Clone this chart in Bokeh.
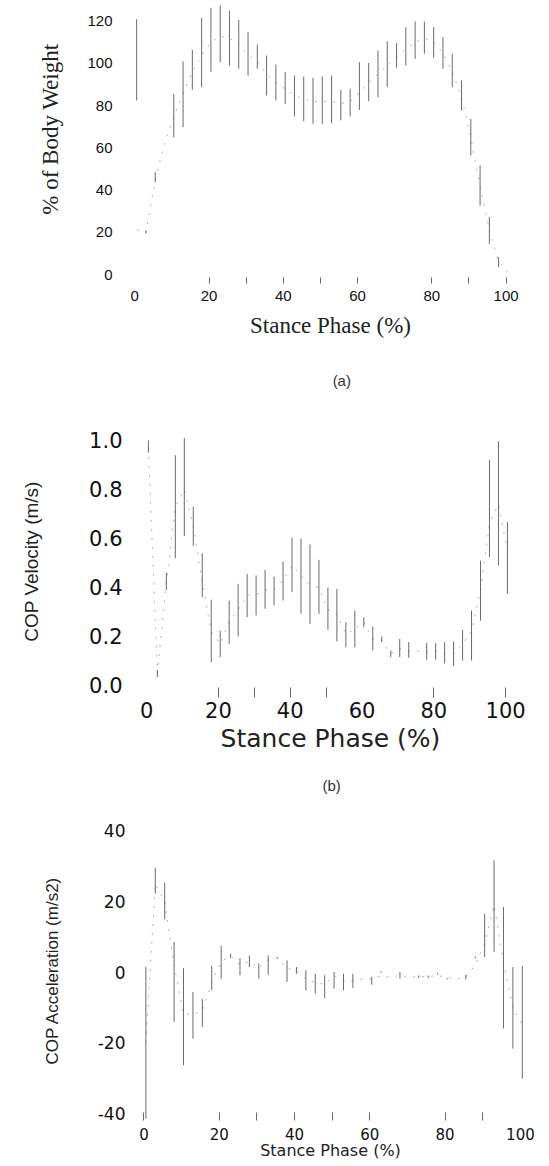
from bokeh.plotting import figure
from bokeh.models import FixedTicker, ColumnDataSource, NumeralTickFormatter, Title
from bokeh.layouts import column
from bokeh.core.properties import value
from bokeh.embed import file_html
from bokeh.resources import INLINE

N = None
# stance phase sample positions (%)
phase = [0.5, 3, 5.5, 8, 10.5, 13, 15.5, 18, 20.5, 23, 25.5, 28, 30.5, 33, 35.5, 38,
         40.5, 43, 45.5, 48, 50.5, 53, 55.5, 58, 60.5, 63, 65.5, 68, 70.5, 73, 75.5,
         78, 80.5, 83, 85.5, 88, 90.5, 93, 95.5, 98, 100.5]

# (a) vertical force, % body weight
force_mean = [21, 20, 45, 62, 75, 86, 96, 104, 110, 113, 112, 109, 104, 101, 95, 91,
              88, 85, 83, 82, 82, 82, 81, 82, 86, 91, 95, 99, 103, 107, 110,
              112, 110, 105, 96, 84, 65, 42, 21, 6, 1]
force_lo = [82.5, 19.4, 43.7, N, 65.1, 69.8, 87.5, 88.8, 96, 100.6, 99, 97.5, 94.3, 97.5, 84.8, 82.5,
            80.9, 74.9, 72.6, 71.4, 71.4, 71.7, 73, 74.9, 78, 82.1, 84, 88.8, 98, 99, 102.2,
            104.6, 102.7, 97.5, 88.8, 77.7, 56.4, 32.7, 14.5, 3.5, N]
force_hi = [121, 20.8, 48.5, N, 85.6, 101, 106.5, 121.6, 126.4, 127.5, 125, 120.7, 114.9, 108.9, 103.8, 99.5,
            95.9, 94.3, 93.8, 93.2, 93.8, 94.3, 87.5, 88, 100.6, 100.3, 106.2, 110.6, 109.6, 117.2, 119.9,
            119.9, 117.2, 112.5, 104.6, 91.9, 73.8, 51.7, 27.2, 8.2, N]

# (b) COP velocity, m/s
vel_mean = [0.97, 0.05, 0.42, 0.73, 0.80, 0.65, 0.42, 0.22, 0.17, 0.26, 0.31, 0.37, 0.37, 0.39, 0.39, 0.43,
            0.49, 0.45, 0.41, 0.40, 0.31, 0.29, 0.21, 0.23, 0.26, 0.19, 0.185, 0.13, 0.15, 0.14, 0.14,
            0.14, 0.14, 0.13, 0.13, 0.17, 0.22, 0.39, 0.66, 0.74, 0.55]
vel_lo = [0.95, 0.034, 0.39, 0.52, 0.61, 0.57, 0.36, 0.095, 0.116, 0.17, 0.2, 0.279, 0.286, 0.313, 0.327, 0.347,
          0.381, 0.293, 0.252, 0.293, 0.227, 0.18, 0.156, 0.156, 0.238, 0.143, 0.177, 0.116, 0.116, 0.113, N,
          0.105, 0.105, 0.09, 0.08, 0.102, 0.102, 0.265, 0.524, 0.49, 0.374]
vel_hi = [1.0, 0.064, 0.46, 0.94, 1.01, 0.73, 0.54, 0.35, 0.224, 0.347, 0.415, 0.456, 0.449, 0.472, 0.445, 0.507,
          0.603, 0.599, 0.576, 0.513, 0.40, 0.395, 0.258, 0.306, 0.279, 0.241, 0.2, 0.143, 0.19, 0.177, N,
          0.173, 0.173, 0.177, 0.18, 0.227, 0.306, 0.51, 0.92, 0.997, 0.667]

# (c) COP acceleration, m/s2
acc_mean = [-20, 25, 20, 2, -12, -12, -11, -3, 3, 4.5, 2, 3, 1, 3.5, 4, 1,
            0.5, -2, -3, -3.5, -1, -2.5, -2.5, -2, -2, -1, -1.5, -1, -1.5, -1.3, -1.3,
            -1, -1.5, -2, -1.5, 2, 8, 19, 3, -10, -15]
acc_lo = [-41.5, 22.2, 14.9, -14.2, -26.4, -18.9, -15.6, -5.2, -1.9, 4.0, -0.9, 1.4, -1.9, -0.8, 3.8, -2.8,
          -0.5, -5.2, -6.1, -7.4, -4.7, -5.2, -4.5, N, -3.6, -0.2, N, -1.9, N, -1.7, -1.7,
          -0.7, -2.1, N, -2.1, 3.9, 4.2, 5.7, -16, -21.7, -30.2]
acc_hi = [1.4, 29.5, 25.3, 8.5, 1.1, -5.7, -7.6, 1.7, 7.4, 5.2, 4.0, 4.7, 2.4, 4.7, 4.2, 3.3,
          1.4, 0.5, -0.5, -0.9, 0, -0.5, -0.5, N, -1.4, 0.2, N, 0, N, -1.0, -1.0,
          -0.3, -1.7, N, -0.8, 4.4, 16.5, 31.6, 18.4, 1.4, 1.7]

x_ticks = [0, 20, 40, 60, 80, 100]
captions = ["(a)", "(b)"]

PAGE_W = 549


def nan(v):
    return [float("nan") if a is None else a for a in v]


def make_panel(top, height, fl, fr, ft, fb, xr, yr):
    p = figure(width=PAGE_W, height=height, x_range=xr, y_range=yr,
               output_backend="svg", toolbar_location=None,
               min_border_left=fl, min_border_right=PAGE_W - fr,
               min_border_top=ft - top, min_border_bottom=top + height - fb)
    p.outline_line_color = None
    p.xgrid.visible = False
    p.ygrid.visible = False
    p.background_fill_color = "white"
    p.border_fill_color = "white"
    for ax in (p.xaxis[0], p.yaxis[0]):
        ax.axis_line_color = None
        ax.major_tick_line_color = None
        ax.minor_tick_line_color = None
        ax.major_tick_out = 0
        ax.minor_tick_out = 0
        ax.major_label_text_color = "#111111"
        ax.axis_label_text_color = "#222222"
        ax.axis_label_text_font_style = "normal"
    return p


def draw(p, mean, lo, hi):
    src = ColumnDataSource(dict(x=phase, lo=nan(lo), hi=nan(hi), m=mean))
    p.segment(x0="x", y0="lo", x1="x", y1="hi", source=src,
              line_color="#6a6a6a", line_width=1)
    p.line(x="x", y="m", source=src, line_color="#555555", line_width=0.8,
           line_dash="2 7", line_alpha=0.55)


def caption(text, height, cx, cy):
    c = figure(width=PAGE_W, height=height, x_range=(0, PAGE_W), y_range=(height, 0),
               output_backend="svg", toolbar_location=None,
               min_border_left=0, min_border_right=0, min_border_top=0, min_border_bottom=0)
    c.axis.visible = False
    c.grid.visible = False
    c.outline_line_color = None
    c.text(x=[cx], y=[cy], text=[text], text_align="center", text_baseline="middle",
           text_font=value("Liberation Sans"), text_font_size="15px", text_color="#333333")
    return c


# ---------- (a) ----------
p1 = make_panel(0, 360, 130, 549, 4, 283, (-1.157, 106.58), (-4.265, 127.96))
draw(p1, force_mean, force_lo, force_hi)
p1.xaxis.ticker = FixedTicker(ticks=x_ticks, minor_ticks=[20, 30, 40, 50, 60, 80, 90, 100])
p1.xaxis.minor_tick_line_color = "#666666"
p1.xaxis.minor_tick_in = 6
p1.xaxis.major_label_standoff = 7
p1.xaxis.major_label_text_font = "Liberation Sans"
p1.xaxis.major_label_text_font_size = "15px"
p1.xaxis.axis_label = "Stance Phase (%)"
p1.xaxis.axis_label_text_font = "Liberation Serif"
p1.xaxis.axis_label_text_font_size = "23px"
p1.xaxis.axis_label_standoff = 9
p1.yaxis.ticker = FixedTicker(ticks=[0, 20, 40, 60, 80, 100, 120])
p1.yaxis.major_label_standoff = 18
p1.yaxis.major_label_text_font = "Liberation Sans"
p1.yaxis.major_label_text_font_size = "15px"
p1.add_layout(Title(text="% of Body Weight", align="right", offset=39, standoff=44,
                    text_font="Liberation Serif", text_font_size="23px",
                    text_font_style="normal", text_color="#222222"), "left")

capA = caption(captions[0], 40, 290, 20)

# ---------- (b) ----------
p2 = make_panel(400, 365, 120, 540, 425, 697, (-4.483, 106.92), (-0.04898, 1.0612))
draw(p2, vel_mean, vel_lo, vel_hi)
p2.xaxis.ticker = FixedTicker(ticks=x_ticks, minor_ticks=[20, 30, 40, 50, 80, 100])
p2.xaxis.minor_tick_line_color = "#666666"
p2.xaxis.minor_tick_in = 10
p2.xaxis.major_label_standoff = 4
p2.xaxis.major_label_text_font = "DejaVu Sans"
p2.xaxis.major_label_text_font_size = "21px"
p2.xaxis.axis_label = "Stance Phase (%)"
p2.xaxis.axis_label_text_font = "DejaVu Sans"
p2.xaxis.axis_label_text_font_size = "25px"
p2.xaxis.axis_label_standoff = 3
p2.yaxis.ticker = FixedTicker(ticks=[0.0, 0.2, 0.4, 0.6, 0.8, 1.0])
p2.yaxis.formatter = NumeralTickFormatter(format="0.0")
p2.yaxis.major_label_standoff = 8
p2.yaxis.major_label_text_font = "DejaVu Sans"
p2.yaxis.major_label_text_font_size = "21px"
p2.yaxis.axis_label = "COP Velocity (m/s)"
p2.yaxis.axis_label_text_font = "Liberation Sans"
p2.yaxis.axis_label_text_font_size = "19px"
p2.yaxis.axis_label_standoff = 44

capB = caption(captions[1], 35, 276, 20)

# ---------- (c) ----------
p3 = make_panel(800, 366, 105, 530, 820, 1120, (-3.584, 102.68), (-42.07, 42.92))
draw(p3, acc_mean, acc_lo, acc_hi)
p3.xaxis.ticker = FixedTicker(ticks=x_ticks, minor_ticks=[0, 20, 30, 40, 50, 60, 80, 90])
p3.xaxis.minor_tick_line_color = "#666666"
p3.xaxis.minor_tick_in = 8
p3.xaxis.major_label_standoff = 7
p3.xaxis.major_label_text_font = "DejaVu Sans"
p3.xaxis.major_label_text_font_size = "15px"
p3.xaxis.axis_label = "Stance Phase (%)"
p3.xaxis.axis_label_text_font = "DejaVu Sans"
p3.xaxis.axis_label_text_font_size = "16px"
p3.xaxis.axis_label_standoff = -2
p3.yaxis.ticker = FixedTicker(ticks=[-40, -20, 0, 20, 40])
p3.yaxis.major_label_overrides = {-40: "-40", -20: "-20", 0: "0", 20: "20", 40: "40"}
p3.yaxis.major_label_standoff = 5
p3.yaxis.major_label_text_font = "DejaVu Sans"
p3.yaxis.major_label_text_font_size = "17px"
p3.yaxis.axis_label = "COP Acceleration (m/s2)"
p3.yaxis.axis_label_text_font = "Liberation Sans"
p3.yaxis.axis_label_text_font_size = "17px"
p3.yaxis.axis_label_standoff = 33

layout = column(p1, capA, p2, capB, p3, spacing=0)
open("out.html", "w").write(file_html(layout, INLINE))
